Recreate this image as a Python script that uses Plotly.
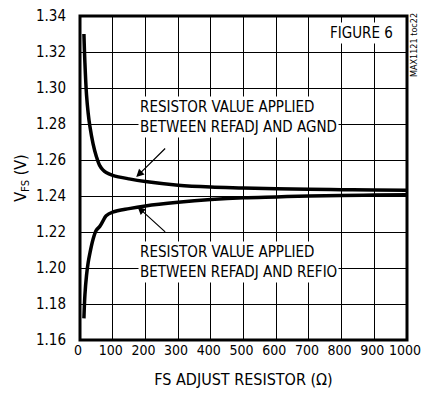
import plotly.graph_objects as go

# FS adjust resistor (ohms)
r_agnd = [12, 15, 20, 25, 30, 40, 50, 60, 70, 80, 100, 150, 200, 300, 400, 500, 600, 700, 800, 900, 1000]
v_agnd = [1.330, 1.314, 1.296, 1.286, 1.279, 1.269, 1.262, 1.257, 1.2545, 1.253, 1.2515, 1.2495, 1.248,
          1.246, 1.245, 1.2445, 1.244, 1.2437, 1.2435, 1.2433, 1.2432]

r_refio = [12, 15, 20, 25, 30, 40, 50, 60, 70, 80, 100, 150, 200, 300, 400, 500, 600, 700, 800, 900, 1000]
v_refio = [1.172, 1.185, 1.196, 1.203, 1.208, 1.216, 1.221, 1.223, 1.226, 1.229, 1.231, 1.233, 1.2345,
           1.2365, 1.238, 1.239, 1.2395, 1.240, 1.2403, 1.2405, 1.2407]

x_ticks = [0, 100, 200, 300, 400, 500, 600, 700, 800, 900, 1000]
y_ticks = [1.16, 1.18, 1.20, 1.22, 1.24, 1.26, 1.28, 1.30, 1.32, 1.34]

FONT = "DejaVu Sans Condensed, Liberation Sans, sans-serif"

fig = go.Figure()
fig.add_trace(go.Scatter(x=r_agnd, y=v_agnd, mode="lines", line=dict(color="black", width=3.5, shape="spline")))
fig.add_trace(go.Scatter(x=r_refio, y=v_refio, mode="lines", line=dict(color="black", width=3.5, shape="spline")))

# labels (white box hides grid behind the text)
label_style = dict(xref="x", yref="y", showarrow=False, bgcolor="white", align="left",
                   font=dict(family=FONT, size=15, color="black"))
fig.add_annotation(x=176, y=1.2839, xanchor="left", text="RESISTOR VALUE APPLIED<br>BETWEEN REFADJ AND AGND", **label_style)
fig.add_annotation(x=176, y=1.2035, xanchor="left", text="RESISTOR VALUE APPLIED<br>BETWEEN REFADJ AND REFIO", **label_style)
fig.add_annotation(x=963, y=1.3306, xanchor="right", text="FIGURE 6", **label_style)

# arrows
arrow_style = dict(xref="x", yref="y", axref="x", ayref="y", showarrow=True, text="",
                   arrowhead=2, arrowsize=1.3, arrowwidth=1.2, arrowcolor="black")
fig.add_annotation(x=172, y=1.2505, ax=265, ay=1.2672, **arrow_style)
fig.add_annotation(x=176, y=1.2340, ax=265, ay=1.2193, **arrow_style)

fig.add_annotation(xref="paper", yref="paper", x=1.021, y=0.91, xanchor="center", yanchor="middle",
                   text="MAX1121 toc22", textangle=-90, showarrow=False,
                   font=dict(family=FONT, size=9, color="black"))

# thick border
fig.add_shape(type="rect", xref="paper", yref="paper", x0=0, y0=0, x1=1, y1=1,
              line=dict(color="black", width=3), layer="above")

fig.update_xaxes(range=[0, 1000], tickvals=x_ticks, showgrid=True, gridcolor="black", gridwidth=1,
                 zeroline=False, showline=False, ticks="", ticklabeloverflow="allow", ticklabelshift=-2,
                 automargin=False, tickfont=dict(family=FONT, size=14, color="black"),
                 title=dict(text="FS ADJUST RESISTOR (Ω)", font=dict(family=FONT, size=16, color="black"),
                            standoff=16))
fig.update_yaxes(range=[1.16, 1.34], tickvals=y_ticks, tickformat=".2f", showgrid=True, gridcolor="black",
                 gridwidth=1, zeroline=False, showline=False, ticks="", ticklabelstandoff=13,
                 ticklabeloverflow="allow", automargin=False,
                 tickfont=dict(family=FONT, size=15, color="black"),
                 title=dict(text="V<sub>FS</sub> (V)", font=dict(family=FONT, size=16, color="black"),
                            standoff=5))

fig.update_layout(width=421, height=401, margin=dict(l=80, r=14, t=16, b=61),
                  paper_bgcolor="white", plot_bgcolor="white", showlegend=False)

# drop the default page margin so the figure sits at the window's corner
fig.write_html("out.html", config={"displayModeBar": False},
               post_script="document.body.style.margin='0';document.body.style.overflow='hidden';")
